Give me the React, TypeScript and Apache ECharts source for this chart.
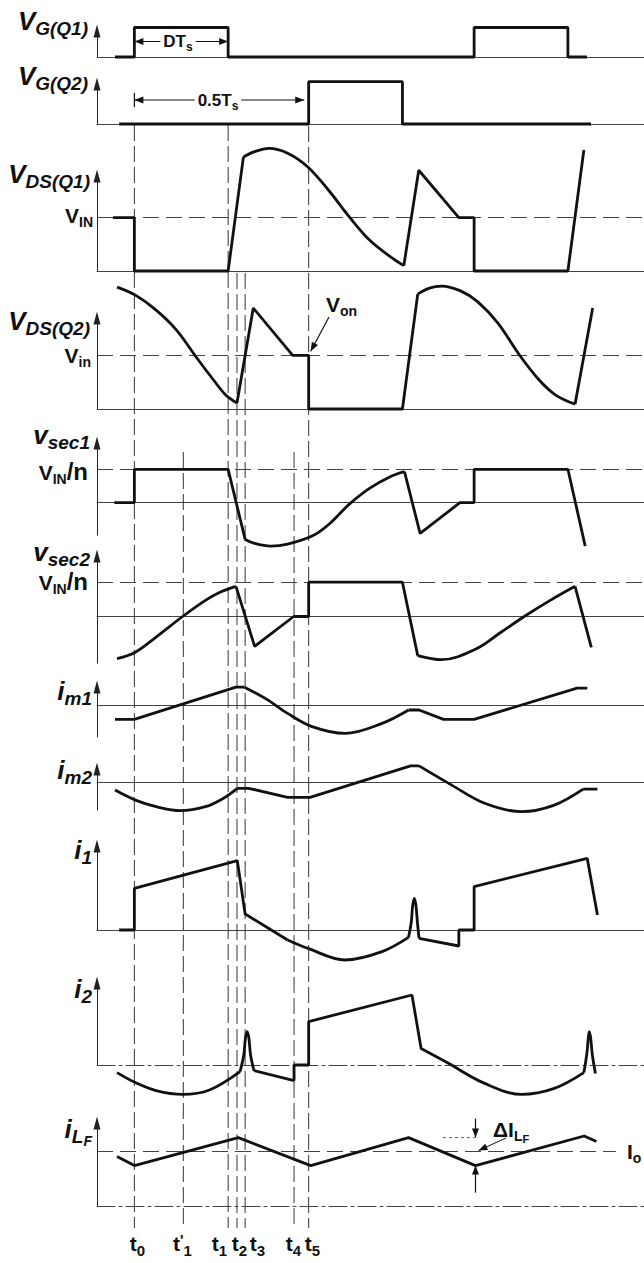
import React, { useEffect, useRef } from 'react';
import * as echarts from 'echarts';

// ---------- DATA (time in % of switching period Ts, t0 = 0) ----------
const markerTimes = [0, 14.4, 27.6, 30.2, 32.6, 47.0, 51.3];
const markerSubs = ['0', '1', '1', '2', '3', '4', '5'];
const markerPrime = [false, true, false, false, false, false, false];

const vg1 = [[-5.7, 0], [0, 0], [0, 1], [27.6, 1], [27.6, 0], [100, 0], [100, 1], [127.6, 1], [127.6, 0], [133.2, 0]];
const vg2 = [[-4.5, 0], [51.3, 0], [51.3, 1], [78.9, 1], [78.9, 0], [134.4, 0]];

const vds1A = [[-6.3, 1], [0, 1], [0, 0], [27.6, 0], [32.1, 2.14]];
const vds1B = [[32.1, 2.14], [35.4, 2.24], [39.6, 2.3], [45.1, 2.21], [50.9, 1.96], [57.1, 1.52], [63.2, 1.02], [69.2, 0.58], [75.3, 0.27], [79.3, 0.1]];
const vds1C = [[79.3, 0.1], [83.7, 1.89], [95.5, 1], [100, 1], [100, 0], [127.6, 0], [132.3, 2.27]];

const vds2A = [[-5.1, 2.27], [0.3, 2.12], [6.4, 1.84], [12.4, 1.47], [18.5, 0.94], [23.3, 0.54], [26.9, 0.26], [30.2, 0.11]];
const vds2B = [[30.2, 0.11], [35, 1.88], [46.6, 1], [51.3, 1], [51.3, 0], [78.9, 0], [83.4, 2.14]];
const vds2C = [[83.4, 2.14], [86.8, 2.25], [90.4, 2.29], [96, 2.2], [101, 2.0], [107, 1.6], [113.4, 1], [119, 0.55], [124, 0.26], [129.7, 0.09]];
const vds2D = [[129.7, 0.09], [134.9, 1.88]];

const vsec1A = [[-5.9, 0], [0, 0], [0, 1], [27.6, 1], [32.6, -1.1]];
const vsec1B = [[32.6, -1.1], [35.4, -1.22], [40.2, -1.3], [45.1, -1.24], [52.3, -1.0], [57.1, -0.66], [63.2, -0.05], [69.2, 0.43], [75.3, 0.78], [79.5, 0.93]];
const vsec1C = [[79.5, 0.93], [84.1, -0.92], [95.8, 0], [100, 0], [100, 1], [127.6, 1], [132.7, -1.3]];

const vsec2A = [[-5.1, -1.23], [0.3, -1.04], [6.4, -0.6], [14.2, 0], [20.9, 0.47], [25.5, 0.72], [29.9, 0.88]];
const vsec2B = [[29.9, 0.88], [35.4, -0.87], [46.9, 0], [51.3, 0], [51.3, 1], [78.9, 1], [83.4, -1.14]];
const vsec2C = [[83.4, -1.14], [90.4, -1.26], [100.7, -0.94], [107.9, -0.46], [115.2, 0.03], [122.4, 0.47], [129.7, 0.88]];
const vsec2D = [[129.7, 0.88], [134.5, -0.9]];

const im1A = [[-5.7, -0.72], [0, -0.72], [29.9, 0.89], [32.4, 0.89]];
const im1B = [[32.4, 0.89], [39, 0.28], [45.1, -0.42], [52.3, -1.08], [62, -1.42], [72.9, -0.92], [80.7, -0.25]];
const im1C = [[80.7, -0.25], [83.8, -0.25], [91, -0.72], [100, -0.72], [130.3, 0.84], [133.3, 0.84]];

const im2A = [[-5.7, -0.37], [0.3, -0.87], [6.4, -1.2], [13.6, -1.4], [20.9, -1.2], [26, -0.8], [30.3, -0.28]];
const im2B = [[30.3, -0.28], [33.6, -0.28], [45.1, -0.73], [51.7, -0.73], [81.3, 0.84], [83.8, 0.84]];
const im2C = [[83.8, 0.84], [93.4, -0.12], [103.1, -1.03], [114, -1.45], [123.6, -1.12], [132.1, -0.32]];
const im2D = [[132.1, -0.32], [136.3, -0.32]];

const i1A = [[-4.5, 0], [0, 0], [0, 2.08], [30.3, 3.47], [32.6, 0.8], [45.1, -0.5]];
const i1B = [[45.1, -0.5], [51.1, -0.92], [62, -1.5], [72.9, -1.08], [80.7, -0.37]];
const i1C = [[80.7, -0.37], [81.5, 0.4], [81.9, 1.2], [82.4, 1.58], [82.9, 1.2], [83.3, 0.4], [83.8, -0.42]];
const i1D = [[83.8, -0.42], [95.5, -0.8], [95.5, 0], [100, 0], [100, 2.17], [133.3, 3.58], [136.3, 0.75]];

const i2A = [[-5.1, -0.38], [0.3, -0.88], [6.4, -1.28], [14.2, -1.47], [22.1, -1.25], [31.1, -0.33]];
const i2B = [[31.1, -0.33], [32.2, 0.5], [32.7, 1.35], [33.2, 1.67], [33.7, 1.35], [34.2, 0.5], [35.2, -0.28]];
const i2C = [[35.2, -0.28], [47, -0.78], [47, 0], [51.3, 0], [51.3, 2.17], [81.7, 3.5], [84.4, 0.83], [93.4, 0]];
const i2D = [[93.4, 0], [103.1, -0.92], [114, -1.47], [123.6, -1.17], [132.3, -0.38]];
const i2E = [[132.3, -0.38], [133.2, 0.6], [133.6, 1.35], [133.9, 1.67], [134.3, 1.35], [134.8, 0.5], [135.7, -0.42]];

const ilf = [[-5.1, 2.47], [0, 2.02], [30.6, 3.42], [51.9, 2.02], [80.7, 3.42], [100.4, 2.02], [132.4, 3.5], [136, 3.22]];
const ilfPeak = 3.42;
const ilfValley = 2.02;
const IO = 2.72;
const REF = 1; // V_IN, V_in, V_IN/n levels (normalised)

// waveform segments per panel: [data, smooth]
const waves: [number[][], boolean][][] = [
  [[vg1, false]],
  [[vg2, false]],
  [[vds1A, false], [vds1B, true], [vds1C, false]],
  [[vds2A, true], [vds2B, false], [vds2C, true], [vds2D, false]],
  [[vsec1A, false], [vsec1B, true], [vsec1C, false]],
  [[vsec2A, true], [vsec2B, false], [vsec2C, true], [vsec2D, false]],
  [[im1A, false], [im1B, true], [im1C, false]],
  [[im2A, true], [im2B, false], [im2C, true], [im2D, false]],
  [[i1A, false], [i1B, true], [i1C, true], [i1D, false]],
  [[i2A, true], [i2B, true], [i2C, false], [i2D, true], [i2E, true]],
  [[ilf, false]],
];
const refLevels: (number | null)[] = [null, null, REF, REF, REF, REF, null, null, null, null, null];

// ---------- LAYOUT ----------
const FF = '"Liberation Sans", Arial, Helvetica, sans-serif';
const XMIN = -11, XMAX = 150, GL = 97, GW = 547;
const X = (t: number) => GL + ((t - XMIN) * GW) / (XMAX - XMIN);
const layout = [
  { base: 57, unit: 29.5, tip: 25, bot: 57 },
  { base: 124, unit: 42.3, tip: 78, bot: 124 },
  { base: 271, unit: 53.3, tip: 170, bot: 271 },
  { base: 409, unit: 53.7, tip: 312, bot: 409 },
  { base: 502.7, unit: 33.4, tip: 437, bot: 535 },
  { base: 616.5, unit: 34.3, tip: 550, bot: 663 },
  { base: 705, unit: 20, tip: 681, bot: 737 },
  { base: 782.7, unit: 20, tip: 763, bot: 810 },
  { base: 930, unit: 20, tip: 840, bot: 930 },
  { base: 1065, unit: 20, tip: 977, bot: 1065 },
  { base: 1206, unit: 20, tip: 1117, bot: 1206 },
];
const Y = (p: number, v: number) => layout[p].base - v * layout[p].unit;
const markerTop = [125, 452, 125, 273, 273, 452, 126];
const markerBottom = 1228;
const markerLabelX = [137.5, 182.5, 219.5, 239.5, 257.5, 293.5, 312.5];
const dashDotAxes = [9, 10];

const tok = (size: number, italic: boolean, padTop = 0) => ({
  fontFamily: FF, fontSize: size, fontWeight: 'bold', fontStyle: italic ? 'italic' : 'normal',
  lineHeight: size, padding: [padTop, 0, 0, 0], verticalAlign: 'top', fill: '#111', color: '#111',
});
const RICH: any = {
  m: tok(26, true),
  s: tok(19, true, 11),
  ss: tok(14, true, 18),
  M: tok(21, false),
  S: tok(14, false, 10),
  SS: tok(11, false, 14),
  N: tok(24, false, -2),
  D: tok(17, false),
  DS: tok(12, false, 8),
  T: tok(21, false),
  TS: tok(15, false, 10),
  P: tok(15, false, -1),
};

function txt(x: number, y: number, text: string, align = 'right', extra: any = {}) {
  return {
    type: 'text', x, y, silent: true, z: 10,
    style: { text, rich: RICH, align, verticalAlign: 'top', fill: '#111', font: `bold 20px ${FF}`, ...extra },
  };
}
function seg(x1: number, y1: number, x2: number, y2: number, w = 1.2, dash?: number[], color = '#111') {
  return { type: 'line', silent: true, z: 9, shape: { x1, y1, x2, y2 }, style: { stroke: color, lineWidth: w, lineDash: dash } };
}
function head(x1: number, y1: number, x2: number, y2: number, len = 9, hw = 3.5) {
  const dx = x2 - x1, dy = y2 - y1, L = Math.hypot(dx, dy), ux = dx / L, uy = dy / L;
  const bx = x2 - ux * len, by = y2 - uy * len;
  return {
    type: 'polygon', silent: true, z: 9,
    shape: { points: [[x2, y2], [bx - uy * hw, by + ux * hw], [bx + uy * hw, by - ux * hw]] },
    style: { fill: '#111' },
  };
}

function buildOption(): any {
  const grid: any[] = [];
  const xAxis: any[] = [];
  const yAxis: any[] = [];
  const series: any[] = [];
  layout.forEach((l, i) => {
    const top = l.tip + 6;
    grid.push({ left: GL, width: GW, top, height: l.bot - top });
    xAxis.push({
      type: 'value', gridIndex: i, min: XMIN, max: XMAX,
      axisLine: { show: true, onZero: true, lineStyle: { color: '#444', width: 1, type: dashDotAxes.includes(i) ? [18, 4, 3, 4] : 'solid' } },
      axisTick: { show: false }, axisLabel: { show: false }, splitLine: { show: false },
    });
    yAxis.push({
      type: 'value', gridIndex: i, min: (l.base - l.bot) / l.unit, max: (l.base - top) / l.unit,
      axisLine: { show: true, onZero: false, symbol: ['none', 'triangle'], symbolSize: [7, 13], lineStyle: { color: '#222', width: 1 } },
      axisTick: { show: false }, axisLabel: { show: false }, splitLine: { show: false },
    });
    waves[i].forEach(([d, sm], k) => {
      const s: any = {
        type: 'line', xAxisIndex: i, yAxisIndex: i, data: d, smooth: sm ? 0.35 : false,
        symbol: 'none', clip: false, silent: true, z: 5,
        lineStyle: { color: '#111', width: 2.8 },
      };
      if (k === 0 && refLevels[i] !== null) {
        s.markLine = {
          silent: true, symbol: 'none', label: { show: false },
          lineStyle: { type: [16, 7], color: '#444', width: 1 },
          data: [{ yAxis: refLevels[i] }],
        };
      }
      if (i === 10) {
        s.markLine = {
          silent: true, symbol: 'none', label: { show: false },
          lineStyle: { type: [16, 7], color: '#444', width: 1 },
          data: [[{ coord: [XMIN, IO] }, { coord: [141.7, IO] }]],
        };
      }
      series.push(s);
    });
  });
  // overlay for vertical time markers
  const ov = layout.length;
  grid.push({ left: GL, width: GW, top: 0, height: 1263 });
  xAxis.push({ type: 'value', gridIndex: ov, min: XMIN, max: XMAX, show: false });
  yAxis.push({ type: 'value', gridIndex: ov, min: 0, max: 1263, inverse: true, show: false });
  markerTimes.forEach((t, k) => {
    series.push({
      type: 'line', xAxisIndex: ov, yAxisIndex: ov, data: [[t, markerTop[k]], [t, markerBottom]],
      symbol: 'none', silent: true, z: 1, lineStyle: { color: '#333', width: 1, type: [16, 5] },
    });
  });

  const g: any[] = [];
  // left labels
  g.push(txt(88, 7.5, '{m|V}{s|G(Q1)}'));
  g.push(txt(88, 62.5, '{m|V}{s|G(Q2)}'));
  g.push(txt(90, 161, '{m|V}{s|DS(Q1)}'));
  g.push(txt(93, 204.5, '{M|V}{S|IN}'));
  g.push(txt(90, 308, '{m|V}{s|DS(Q2)}'));
  g.push(txt(91, 345, '{M|V}{S|in}'));
  g.push(txt(90, 422, '{m|v}{s|sec1}'));
  g.push(txt(88, 461.5, '{M|V}{S|IN}{N|/n}'));
  g.push(txt(90, 538.5, '{m|v}{s|sec2}'));
  g.push(txt(88, 571.5, '{M|V}{S|IN}{N|/n}'));
  g.push(txt(92, 678, '{m|i}{s|m1}'));
  g.push(txt(92, 757, '{m|i}{s|m2}'));
  g.push(txt(92, 837, '{m|i}{s|1}'));
  g.push(txt(92, 976, '{m|i}{s|2}'));
  g.push(txt(92, 1116, '{m|i}{s|L}{ss|F}'));

  // DTs dimension arrow
  const yDT = 41.5;
  g.push(seg(X(0), yDT, X(27.6), yDT));
  g.push(head(X(13.8), yDT, X(0), yDT));
  g.push(head(X(13.8), yDT, X(27.6), yDT));
  g.push(txt(178, yDT - 8.5, '{D|DT}{DS|s}', 'center', { backgroundColor: '#fff', padding: [0, 3, 0, 3] }));
  // 0.5Ts dimension arrow
  const yH = 100;
  g.push(seg(X(0), yH, X(50), yH));
  g.push(seg(X(0), yH - 7, X(0), yH + 7));
  g.push(head(X(25), yH, X(0), yH));
  g.push(head(X(25), yH, X(50), yH));
  g.push(txt(218, yH - 8.5, '{D|0.5T}{DS|s}', 'center', { backgroundColor: '#fff', padding: [0, 3, 0, 3] }));
  // Von
  g.push(txt(326, 294, '{M|V}{S|on}', 'left'));
  g.push(seg(329, 317, X(51.3) + 2, Y(3, REF) - 4));
  g.push(head(329, 317, X(51.3) + 2, Y(3, REF) - 4));
  // Delta I_LF
  const xv = X(100.4);
  g.push(seg(xv, Y(10, ilfPeak) - 19, xv, Y(10, ilfPeak)));
  g.push(head(xv, Y(10, ilfPeak) - 19, xv, Y(10, ilfPeak)));
  g.push(seg(xv, Y(10, ilfValley) + 27, xv, Y(10, ilfValley)));
  g.push(head(xv, Y(10, ilfValley) + 27, xv, Y(10, ilfValley)));
  g.push(seg(443, Y(10, ilfPeak), xv, Y(10, ilfPeak), 1, [3, 3], '#666'));
  g.push(txt(493, 1119, '{M|ΔI}{S|L}{SS|F}', 'left'));
  g.push(seg(506, 1138, xv + 3, Y(10, IO) - 1, 1));
  g.push(head(506, 1138, xv + 3, Y(10, IO) - 1));
  g.push(txt(627, 1141, '{M|I}{S|o}', 'left'));
  // time labels
  markerTimes.forEach((_, k) => {
    const label = markerPrime[k] ? `{T|t}{P|'}{TS|${markerSubs[k]}}` : `{T|t}{TS|${markerSubs[k]}}`;
    g.push(txt(markerLabelX[k], 1233, label, 'center'));
  });

  return { animation: false, backgroundColor: '#fff', grid, xAxis, yAxis, series, graphic: g };
}

export default function App() {
  const ref = useRef<HTMLDivElement>(null);
  useEffect(() => {
    document.body.style.margin = '0';
    const chart = echarts.init(ref.current!, null, { renderer: 'svg' });
    chart.setOption(buildOption());
    return () => chart.dispose();
  }, []);
  return <div ref={ref} style={{ width: 644, height: 1263, background: '#fff' }} />;
}
